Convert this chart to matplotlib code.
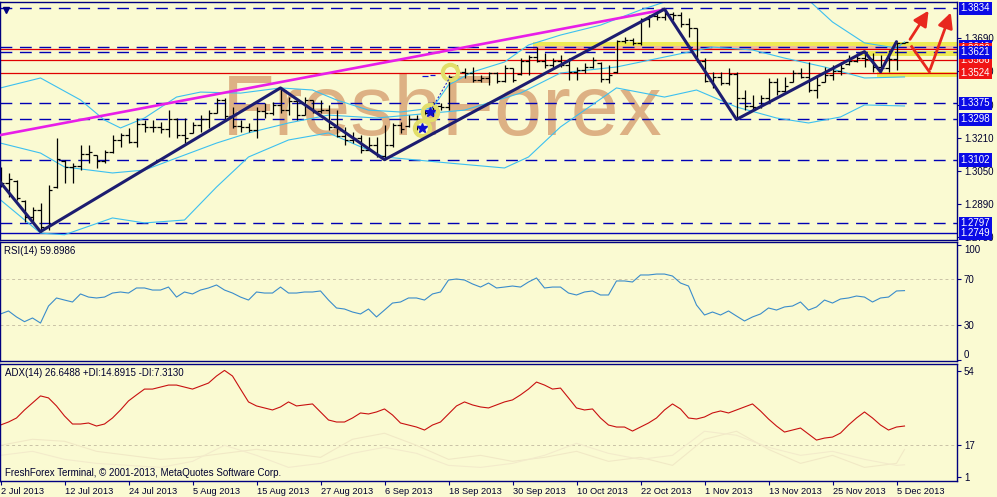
import numpy as np
import pandas as pd
import matplotlib.pyplot as plt
from matplotlib.patches import FancyArrowPatch

plt.rcParams['font.family'] = ['Liberation Sans', 'DejaVu Sans']

W, H = 997, 497
BG = '#FAFAD2'
NAVY = '#000080'

# ---- daily EURUSD bars, 2 Jul 2013 .. 6 Dec 2013 ----
dates = pd.bdate_range('2013-07-02', periods=114)

opens = [1.3050, 1.2990, 1.3000, 1.2905, 1.2830, 1.2860, 1.2780, 1.2970, 1.3100, 1.3070,
         1.3075, 1.3130, 1.3125, 1.3100, 1.3140, 1.3200, 1.3225, 1.3190, 1.3275, 1.3260,
         1.3260, 1.3250, 1.3300, 1.3225, 1.3235, 1.3270, 1.3300, 1.3330, 1.3390, 1.3315,
         1.3265, 1.3260, 1.3245, 1.3340, 1.3330, 1.3370, 1.3345, 1.3385, 1.3320, 1.3390,
         1.3340, 1.3345, 1.3260, 1.3220, 1.3200, 1.3210, 1.3150, 1.3175, 1.3120, 1.3175,
         1.3270, 1.3265, 1.3300, 1.3300, 1.3330, 1.3365, 1.3360, 1.3505, 1.3525, 1.3520,
         1.3490, 1.3500, 1.3520, 1.3485, 1.3545, 1.3515, 1.3580, 1.3600, 1.3580, 1.3560,
         1.3580, 1.3560, 1.3525, 1.3535, 1.3550, 1.3570, 1.3495, 1.3525, 1.3675, 1.3680,
         1.3665, 1.3780, 1.3795, 1.3790, 1.3805, 1.3800, 1.3760, 1.3740, 1.3580, 1.3485,
         1.3505, 1.3475, 1.3515, 1.3400, 1.3365, 1.3360, 1.3400, 1.3480, 1.3435, 1.3480,
         1.3520, 1.3505, 1.3440, 1.3480, 1.3510, 1.3530, 1.3565, 1.3580, 1.3595, 1.3590,
         1.3550, 1.3545, 1.3590, 1.3668]
highs = [1.3069, 1.3040, 1.3006, 1.2910, 1.2876, 1.2895, 1.2982, 1.3209, 1.3102, 1.3088,
         1.3175, 1.3175, 1.3127, 1.3151, 1.3223, 1.3233, 1.3257, 1.3305, 1.3295, 1.3295,
         1.3286, 1.3343, 1.3305, 1.3305, 1.3286, 1.3319, 1.3343, 1.3401, 1.3401, 1.3358,
         1.3295, 1.3281, 1.3358, 1.3377, 1.3382, 1.3450, 1.3406, 1.3392, 1.3406, 1.3392,
         1.3392, 1.3368, 1.3343, 1.3262, 1.3237, 1.3223, 1.3213, 1.3213, 1.3271, 1.3281,
         1.3286, 1.3319, 1.3319, 1.3343, 1.3382, 1.3377, 1.3512, 1.3561, 1.3546, 1.3551,
         1.3512, 1.3527, 1.3527, 1.3561, 1.3546, 1.3594, 1.3609, 1.3647, 1.3618, 1.3594,
         1.3609, 1.3594, 1.3551, 1.3570, 1.3599, 1.3575, 1.3561, 1.3681, 1.3696, 1.3691,
         1.3787, 1.3802, 1.3826, 1.3834, 1.3816, 1.3816, 1.3787, 1.3739, 1.3594, 1.3527,
         1.3527, 1.3546, 1.3527, 1.3440, 1.3416, 1.3416, 1.3498, 1.3498, 1.3503, 1.3536,
         1.3546, 1.3575, 1.3512, 1.3551, 1.3561, 1.3575, 1.3609, 1.3618, 1.3623, 1.3618,
         1.3609, 1.3633, 1.3672, 1.3672]
lows = [1.2972, 1.2924, 1.2910, 1.2804, 1.2804, 1.2755, 1.2765, 1.2968, 1.2992, 1.2992,
        1.3054, 1.3088, 1.3064, 1.3088, 1.3136, 1.3165, 1.3184, 1.3165, 1.3237, 1.3237,
        1.3233, 1.3213, 1.3209, 1.3184, 1.3233, 1.3237, 1.3257, 1.3329, 1.3295, 1.3257,
        1.3237, 1.3237, 1.3209, 1.3305, 1.3319, 1.3329, 1.3319, 1.3295, 1.3319, 1.3329,
        1.3329, 1.3247, 1.3213, 1.3175, 1.3184, 1.3136, 1.3151, 1.3117, 1.3102, 1.3165,
        1.3233, 1.3262, 1.3247, 1.3295, 1.3310, 1.3343, 1.3343, 1.3498, 1.3498, 1.3479,
        1.3479, 1.3464, 1.3474, 1.3479, 1.3479, 1.3512, 1.3512, 1.3575, 1.3546, 1.3546,
        1.3551, 1.3488, 1.3488, 1.3522, 1.3546, 1.3479, 1.3474, 1.3522, 1.3667, 1.3657,
        1.3657, 1.3744, 1.3778, 1.3778, 1.3778, 1.3744, 1.3696, 1.3575, 1.3479, 1.3450,
        1.3464, 1.3464, 1.3298, 1.3343, 1.3343, 1.3353, 1.3382, 1.3416, 1.3430, 1.3479,
        1.3498, 1.3430, 1.3401, 1.3479, 1.3488, 1.3512, 1.3561, 1.3575, 1.3551, 1.3527,
        1.3527, 1.3527, 1.3536, 1.3667]
closes = [1.2990, 1.3010, 1.2920, 1.2830, 1.2860, 1.2780, 1.2960, 1.3105, 1.3070, 1.3075,
          1.3130, 1.3140, 1.3100, 1.3140, 1.3200, 1.3225, 1.3190, 1.3275, 1.3260, 1.3260,
          1.3250, 1.3300, 1.3225, 1.3210, 1.3270, 1.3300, 1.3330, 1.3390, 1.3315, 1.3265,
          1.3260, 1.3245, 1.3340, 1.3330, 1.3370, 1.3345, 1.3385, 1.3320, 1.3390, 1.3340,
          1.3345, 1.3260, 1.3220, 1.3200, 1.3210, 1.3150, 1.3175, 1.3120, 1.3175, 1.3270,
          1.3250, 1.3300, 1.3265, 1.3330, 1.3365, 1.3360, 1.3505, 1.3525, 1.3520, 1.3490,
          1.3500, 1.3520, 1.3485, 1.3545, 1.3490, 1.3580, 1.3600, 1.3580, 1.3560, 1.3580,
          1.3560, 1.3525, 1.3535, 1.3550, 1.3585, 1.3495, 1.3510, 1.3675, 1.3680, 1.3665,
          1.3780, 1.3795, 1.3790, 1.3805, 1.3800, 1.3760, 1.3740, 1.3580, 1.3485, 1.3505,
          1.3475, 1.3515, 1.3400, 1.3365, 1.3360, 1.3400, 1.3480, 1.3435, 1.3460, 1.3520,
          1.3505, 1.3440, 1.3465, 1.3510, 1.3530, 1.3545, 1.3580, 1.3595, 1.3590, 1.3550,
          1.3545, 1.3590, 1.3665, 1.3670]

# Bollinger bands (at the listed bars)
bb_up_bars = [0, 5, 10, 13, 15, 18, 22, 25, 30, 35, 39, 42, 46, 50, 54, 56, 59, 63, 66, 70,
              75, 80, 83, 88, 92, 96, 101, 104, 108, 112, 113]
bb_up = [1.3450, 1.3498, 1.3392, 1.3295, 1.3257, 1.3305, 1.3406, 1.3430, 1.3425, 1.3450,
         1.3440, 1.3392, 1.3343, 1.3334, 1.3353, 1.3464, 1.3527, 1.3575, 1.3657, 1.3705,
         1.3753, 1.3826, 1.3864, 1.3884, 1.3884, 1.3898, 1.3874, 1.3768, 1.3667, 1.3642,
         1.3672]
bb_mid_bars = [0, 5, 8, 14, 18, 22, 27, 31, 36, 41, 47, 54, 58, 65, 70, 77, 83, 89, 94, 98,
               103, 108, 113]
bb_mid = [1.3184, 1.3136, 1.3069, 1.3040, 1.3054, 1.3112, 1.3184, 1.3233, 1.3281, 1.3319,
          1.3305, 1.3329, 1.3343, 1.3425, 1.3522, 1.3551, 1.3599, 1.3647, 1.3633, 1.3594,
          1.3551, 1.3498, 1.3503]
bb_lo_bars = [0, 5, 8, 14, 18, 23, 27, 31, 36, 41, 48, 56, 63, 66, 70, 77, 83, 87, 92, 97,
              101, 105, 108, 113]
bb_lo = [1.2910, 1.2750, 1.2742, 1.2823, 1.2799, 1.2813, 1.2972, 1.3117, 1.3199, 1.3233,
         1.3117, 1.3088, 1.3064, 1.3117, 1.3262, 1.3450, 1.3406, 1.3440, 1.3358, 1.3305,
         1.3281, 1.3310, 1.3368, 1.3363]

# zigzag pivots and trend line
zz_bars = [-1, 5, 35, 48, 83, 92, 108, 110, 112]
zz_price = [1.3042, 1.2757, 1.3450, 1.3104, 1.3830, 1.3298, 1.3625, 1.3528, 1.3673]
trend_bars = [0, 83]
trend_price = [1.3223, 1.3828]

# horizontal levels
blue_dashed = [1.3834, 1.3649, 1.3621, 1.3375, 1.3298, 1.3102, 1.2797]
blue_solid = [1.2749]
red_levels = [1.3636, 1.3586, 1.3524]
price_ticks = [1.2730, 1.2890, 1.3050, 1.3210, 1.3370, 1.3530, 1.3690]

# RSI(14)
rsi = [39.6, 42.2, 37.0, 32.9, 36.1, 31.7, 46.5, 53.5, 51.7, 50.0,
       57.0, 54.3, 53.5, 54.3, 57.8, 58.7, 57.8, 62.2, 62.2, 60.4,
       60.4, 63.0, 54.3, 58.7, 57.0, 60.4, 62.2, 64.8, 60.4, 57.8,
       54.3, 51.7, 58.7, 57.8, 57.8, 63.0, 57.8, 57.8, 58.7, 58.7,
       59.6, 51.7, 44.8, 43.9, 41.3, 39.6, 43.9, 37.0, 43.0, 49.1,
       50.0, 53.5, 53.5, 51.7, 57.0, 58.7, 69.1, 70.0, 69.1, 65.7,
       63.0, 66.5, 62.2, 63.0, 63.9, 63.0, 67.4, 70.9, 62.2, 63.0,
       63.0, 57.8, 56.1, 58.7, 59.6, 56.1, 56.1, 68.3, 68.3, 67.4,
       73.5, 73.5, 74.3, 74.3, 72.6, 66.5, 63.9, 47.4, 38.7, 41.3,
       38.7, 42.2, 37.8, 33.5, 37.0, 39.6, 44.8, 43.0, 45.7, 46.5,
       50.0, 43.0, 45.7, 51.7, 49.1, 52.6, 53.5, 55.2, 54.3, 50.0,
       53.5, 54.3, 59.6, 59.9]

# ADX(14) with +DI / -DI
adx = [27.1, 28.6, 30.6, 34.6, 38.1, 41.6, 40.6, 36.6, 31.6, 27.6,
       27.6, 28.1, 26.6, 27.6, 30.6, 34.6, 39.1, 42.1, 45.0, 45.0,
       46.0, 47.0, 47.0, 46.0, 45.0, 46.5, 48.0, 51.5, 54.3, 51.5,
       45.0, 38.6, 36.6, 35.6, 34.6, 36.1, 38.6, 36.6, 37.1, 37.6,
       33.6, 29.6, 28.6, 28.6, 30.6, 33.1, 32.6, 33.6, 35.1, 32.1,
       28.1, 27.1, 26.1, 24.6, 27.1, 28.6, 32.6, 36.6, 38.6, 37.1,
       36.1, 35.6, 37.1, 38.6, 39.6, 42.1, 45.0, 48.5, 47.0, 45.0,
       45.5, 40.6, 35.6, 34.6, 35.1, 30.6, 27.1, 26.1, 26.1, 24.1,
       26.1, 28.1, 30.6, 34.6, 37.6, 35.1, 30.6, 30.1, 31.1, 33.1,
       34.1, 33.1, 34.6, 36.1, 37.6, 34.1, 30.1, 26.6, 23.6, 24.6,
       25.6, 22.6, 19.6, 20.6, 21.1, 23.1, 27.1, 30.6, 33.6, 30.6,
       27.1, 24.6, 26.1, 26.6]
di_bars = list(range(0, 113, 4)) + [113]
plus_di = [17, 20, 19, 14, 12, 10, 11, 13, 15, 13, 11, 20, 23, 17, 10, 12, 9, 11, 14, 9,
           11, 7, 20, 24, 15, 8, 12, 6, 8, 14.9]
minus_di = [12, 14, 10, 8, 7, 6, 9, 17, 12, 6, 8, 13, 16, 13, 7, 6, 8, 12, 18, 13,
            10, 12, 24, 22, 16, 12, 14, 10, 7, 7.3]

# ---------------------------------------------------------------
fig = plt.figure(figsize=(W / 100, H / 100), dpi=100, facecolor=BG)


def rect(x0, y0, x1, y1):
    return [x0 / W, 1 - y1 / H, (x1 - x0) / W, (y1 - y0) / H]


ax = fig.add_axes(rect(0, 1.5, 957, 239.5))
ax_rsi = fig.add_axes(rect(0, 242.5, 957, 361))
ax_adx = fig.add_axes(rect(0, 363.5, 957, 481))

x = np.arange(len(closes))
for a in (ax, ax_rsi, ax_adx):
    a.set_facecolor(BG)
    a.set_xlim(-0.0625, 119.5625)
    for s in a.spines.values():
        s.set_color(NAVY)
        s.set_linewidth(1.0)
    a.yaxis.tick_right()
    a.tick_params(axis='y', direction='out', length=3, width=0.8, colors=NAVY,
                  labelsize=7, pad=2, labelcolor='#000030')
    a.tick_params(axis='x', length=0, labelbottom=False)

# ---- price pane ----
ax.set_ylim(1.27191, 1.38668)
ax.text(222 / W, 1 - 135 / H, 'FreshForex', transform=fig.transFigure, fontsize=62,
        color='#DDB184', va='baseline', ha='left', zorder=0.2)

# highlighted zones
ax.fill_between([66.6, 119.6], 1.3652, 1.3671, color='#EEEA55', lw=0, zorder=0.4)
ax.fill_between([66.6, 119.6], 1.36353, 1.3652, color='#EDB9A2', lw=0, zorder=0.4)
ax.fill_between([107.4, 119.6], 1.3604, 1.3628, color='#EEEA55', lw=0, zorder=0.4)
ax.fill_between([109.5, 119.6], 1.3505, 1.3527, color='#EEEA55', lw=0, zorder=0.4)

for lv in blue_dashed:
    ax.axhline(lv, color='#0000B4', lw=1.0, dashes=(8.5, 5.5), zorder=1)
for lv in blue_solid:
    ax.axhline(lv, color='#0000B4', lw=1.0, zorder=1)
for lv in red_levels:
    ax.axhline(lv, color='#E00000', lw=0.9, zorder=1)

ax.plot(bb_up_bars, bb_up, color='#3CC0F0', lw=0.8, zorder=1.5)
ax.plot(bb_mid_bars, bb_mid, color='#3CC0F0', lw=0.8, zorder=1.5)
ax.plot(bb_lo_bars, bb_lo, color='#3CC0F0', lw=0.8, zorder=1.5)

# OHLC bars
ax.vlines(x, lows, highs, color='black', lw=0.9, zorder=2)
ax.hlines(opens, x - 0.38, x, color='black', lw=0.9, zorder=2)
ax.hlines(closes, x, x + 0.38, color='black', lw=0.9, zorder=2)

ax.plot(trend_bars, trend_price, color='#E81EE8', lw=1.9, zorder=3)
ax.plot(zz_bars, zz_price, color='#1C1C70', lw=2.2, zorder=3, solid_capstyle='round')

# signal marks around 16-18 Sep
ax.plot([52.65, 53.7, 56.2], [1.3256, 1.3336, 1.3528], 'o', ms=11, mfc='none',
        mec='#E2DE6A', mew=3, zorder=2.5)
ax.plot([52.65, 53.7], [1.3256, 1.3336], '*', ms=7, color='#1010D0', zorder=4)
ax.plot([53.7, 56.2], [1.3336, 1.3503], color='#1010D0', lw=0.7, ls=(0, (2, 2)), zorder=4)
ax.hlines([1.3506, 1.3511], [52.7, 53.7], [53.4, 54.3], color='#1010D0', lw=0.9, zorder=4)
ax.plot([0.7], [1.3826], 'v', ms=4, color=NAVY, zorder=4)

# projection arrows
ar = dict(arrowstyle='-|>,head_length=0.9,head_width=0.45', color='#E8281E', lw=2.0,
          mutation_scale=10, zorder=5, clip_on=False)
ax.add_patch(FancyArrowPatch((113.5, 1.3673), (116.2, 1.3834), **ar))
ax.plot([113.9, 116.1], [1.3649, 1.3528], color='#E8281E', lw=2.0, zorder=5)
ax.add_patch(FancyArrowPatch((116.1, 1.3528), (118.9, 1.3826), **ar))

ax.set_yticks(price_ticks)
ax.set_yticklabels([f'{t:.4f}' for t in price_ticks])

ytr = ax.get_yaxis_transform()
label_order = [(1.3834, 'b'), (1.3649, 'b'), (1.3636, 'r'), (1.3586, 'r'), (1.3621, 'b'),
               (1.3524, 'r'), (1.3375, 'b'), (1.3298, 'b'), (1.3102, 'b'), (1.2797, 'b'),
               (1.2749, 'b')]
for k, (lv, c) in enumerate(label_order):
    ax.text(1 + 3.5 / 957, lv, f'{lv:.4f}', transform=ytr, ha='left', va='center',
            fontsize=7, color='white', clip_on=False, zorder=10 + k,
            bbox=dict(boxstyle='square,pad=0.18', fc='#0A0AE6' if c == 'b' else '#F01414',
                      ec='none'))

# ---- RSI pane ----
ax_rsi.set_ylim(-1.3, 101.74)
for lv in (30, 70):
    ax_rsi.axhline(lv, color='#C9C2A6', lw=0.7, dashes=(3, 3))
ax_rsi.plot(x, rsi, color='#3A8CCB', lw=0.8)
ax_rsi.set_yticks([0, 30, 70, 100])
ax_rsi.set_yticklabels(['0', '30', '70', '100'])
rl = ax_rsi.get_yticklabels()
rl[0].set_va('bottom')
rl[3].set_va('top')

# ---- ADX pane ----
ax_adx.set_ylim(-0.78, 57.74)
ax_adx.axhline(17, color='#C9C2A6', lw=0.7, dashes=(3, 3))
ax_adx.plot(di_bars, plus_di, color='#F1E9C6', lw=0.8)
ax_adx.plot(di_bars, minus_di, color='#F3EBCB', lw=0.8)
ax_adx.plot(x, adx, color='#C81010', lw=0.8)
ax_adx.set_yticks([1, 17, 54])
ax_adx.set_yticklabels(['1', '17', '54'])

ax_adx.set_xticks(x[::8])
ax_adx.set_xticklabels([f'{d.day} {d.strftime("%b %Y")}' for d in dates[::8]])
ax_adx.tick_params(axis='x', direction='out', length=3, width=0.8, colors=NAVY,
                   labelbottom=True, labelsize=6.7, pad=1, labelcolor='#000030')
for t in ax_adx.get_xticklabels():
    t.set_ha('left')

fig.text(4 / W, 1 - 251.5 / H, 'RSI(14) 59.8986', fontsize=7, color='#000030', va='center')
fig.text(5 / W, 1 - 373 / H, 'ADX(14) 26.6488 +DI:14.8915 -DI:7.3130', fontsize=7,
         color='#000030', va='center')
fig.text(5 / W, 1 - 473.5 / H, 'FreshForex Terminal, \u00a9 2001-2013, MetaQuotes Software Corp.',
         fontsize=7, color='#000030', va='center')

fig.savefig('out.png', dpi=100, facecolor=BG)
